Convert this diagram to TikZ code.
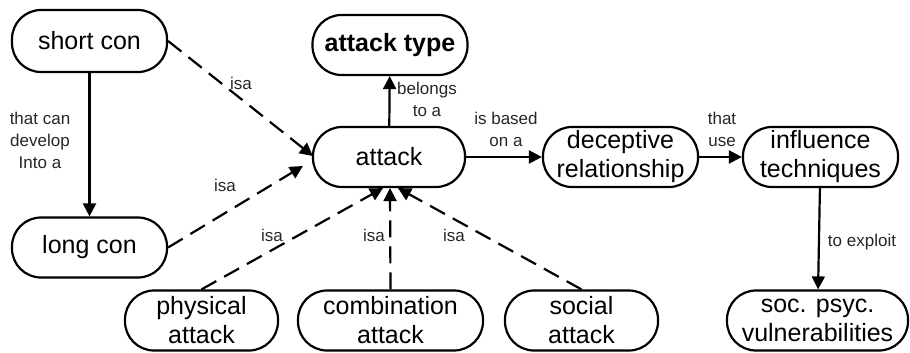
\documentclass[tikz,border=0pt]{standalone}
\usepackage{fontspec}
\setmainfont{Liberation Sans}
\usetikzlibrary{arrows.meta}
\begin{document}
\begin{tikzpicture}[x=1pt,y=-1pt,
  concept/.style={draw,line width=2.2pt,rounded corners=29pt,inner sep=0pt,
    align=center,font=\fontsize{25}{29}\selectfont,minimum height=60pt},
  lbl/.style={align=center,font=\fontsize{17}{22}\selectfont,inner sep=0pt,text=black!85},
  link/.style={line width=2.2pt,-{Triangle[length=13pt,width=13pt]}},
  isalink/.style={link,dash pattern=on 17pt off 9pt}]
\useasboundingbox (0,0) rectangle (910,353);

% concepts
\node[concept,minimum width=155pt,minimum height=62pt] (short) at (89.5,41) {short con};
\node[concept,minimum width=155pt] (long) at (89.5,247.5) {long con};
\node[concept,minimum width=155pt,font=\fontsize{25}{29}\selectfont\bfseries] (type) at (390,45) {attack type};
\node[concept,minimum width=152pt] (attack) at (389,157) {attack};
\node[concept,minimum width=155pt] (decep) at (620.5,157) {deceptive\\relationship};
\node[concept,minimum width=155pt] (infl) at (820.5,157) {influence\\techniques};
\node[concept,minimum width=153pt] (phys) at (201.5,320.5) {physical\\attack};
\node[concept,minimum width=185pt] (comb) at (390.5,320.5) {combination\\attack};
\node[concept,minimum width=153pt] (social) at (581.5,320.5) {social\\attack};
\node[concept,minimum width=181pt] (vuln) at (817.5,320.5) {soc. psyc.\\vulnerabilities};

% links
\draw[link] (short) -- (long);
\draw[isalink] (short.east) -- ([shift={(1,-1)}]attack.west);
\draw[isalink] (long.east) -- ([shift={(-9,9)}]attack.west);
\draw[isalink] (phys.north) -- ([xshift=-6]attack.south);
\draw[isalink] (comb.north) -- ([xshift=1]attack.south);
\draw[isalink] (social.north) -- ([xshift=9]attack.south);
\draw[link] (attack) -- (type);
\draw[link] (attack) -- (decep);
\draw[link] (decep) -- (infl);
\draw[link] (infl) -- (vuln);

% link phrases
\node[lbl] (l1) at (40,140) {that can\\develop\\Into a};
\node[lbl] (l2) at (241,83) {isa};
\node[lbl] (l3) at (225,185) {isa};
\node[lbl] (l4) at (272,235) {isa};
\node[lbl] (l5) at (374,235) {isa};
\node[lbl] (l6) at (454,235) {isa};
\node[lbl] (l7) at (427,99) {belongs\\to a};
\node[lbl] (l8) at (506,129) {is based\\on a};
\node[lbl] (l9) at (722,129) {that\\use};
\node[lbl] (l10) at (862,242) {to exploit};
\end{tikzpicture}
\end{document}
